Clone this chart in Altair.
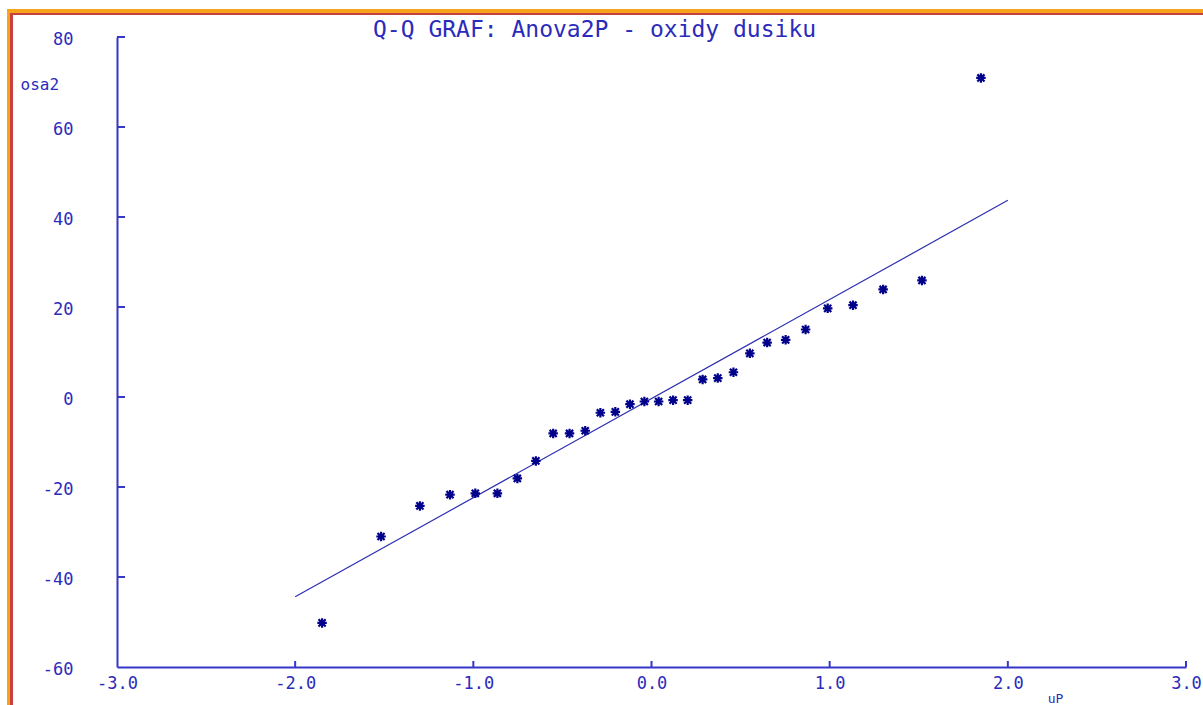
import altair as alt
import pandas as pd

# ---- data ----
uP = [-1.849, -1.518, -1.300, -1.131, -0.989, -0.865, -0.753, -0.649, -0.552, -0.460,
      -0.372, -0.287, -0.203, -0.121, -0.040, 0.040, 0.121, 0.203, 0.287, 0.372,
      0.460, 0.552, 0.649, 0.753, 0.865, 0.989, 1.131, 1.300, 1.518, 1.849]
osa2 = [-50.2, -31.0, -24.2, -21.7, -21.4, -21.4, -18.1, -14.2, -8.1, -8.1,
        -7.5, -3.5, -3.3, -1.6, -1.0, -1.0, -0.7, -0.7, 3.9, 4.2,
        5.5, 9.7, 12.1, 12.7, 15.0, 19.7, 20.4, 23.9, 25.9, 70.9]
line_x = [-2.0, 2.0]
line_y = [-44.4, 43.7]
x_ticks = [-3.0, -2.0, -1.0, 0.0, 1.0, 2.0, 3.0]
y_ticks = [-60, -40, -20, 0, 20, 40, 60, 80]
x_inner_ticks = [-2.0, -1.0, 0.0, 1.0, 2.0, 3.0]
y_inner_ticks = [-40, -20, 0, 20, 40, 60, 80]

TITLE = "Q-Q GRAF: Anova2P - oxidy dusiku"
FONT = "DejaVu Sans Mono"
AXIS_COL = "#3636c8"
TEXT_COL = "#2b2bbb"
PT_COL = "#00008b"

W, H = 1069, 630
PAD_L, PAD_T = 117, 37

pts = pd.DataFrame({"uP": uP, "osa2": osa2})
ln = pd.DataFrame({"uP": line_x, "osa2": line_y})
xt = pd.DataFrame({"uP": x_inner_ticks})
yt = pd.DataFrame({"osa2": y_inner_ticks})

x_scale = alt.Scale(domain=[-3, 3], nice=False, zero=False)
y_scale = alt.Scale(domain=[-60, 80], nice=False, zero=False)

x_enc = alt.X("uP:Q", scale=x_scale, title="uP",
              axis=alt.Axis(values=x_ticks, grid=False, ticks=False, domainColor=AXIS_COL,
                            domainWidth=2, labelColor=TEXT_COL, labelFont=FONT, labelFontSize=17,
                            labelPadding=8, labelFlush=False, labelOverlap=False,
                            labelExpr="replace(format(datum.value, '.1f'), '\u2212', '-')",
                            titleFont=FONT, titleFontSize=13, titleFontWeight="normal",
                            titleColor=TEXT_COL, titleX=938, titleY=31, titleAlign="center",
                            titleBaseline="middle", zindex=2))
y_enc = alt.Y("osa2:Q", scale=y_scale, title="osa2",
              axis=alt.Axis(values=y_ticks, grid=False, ticks=False, domainColor=AXIS_COL,
                            domainWidth=2, labelColor=TEXT_COL, labelFont=FONT, labelFontSize=17,
                            labelPadding=44, labelFlush=False, labelOverlap=False,
                            labelBaseline="middle", labelOffset=2,
                            labelExpr="replace(format(datum.value, 'd'), '\u2212', '-')",
                            titleFont=FONT, titleFontSize=16, titleFontWeight="normal",
                            titleColor=TEXT_COL, titleAngle=0, titleX=-97, titleY=47,
                            titleAlign="left", titleBaseline="middle", zindex=2))

one = alt.Data(values=[{}])


def band(color, x0, y0):
    return alt.Chart(one).mark_rect(color=color).encode(
        x=alt.value(x0 - PAD_L), x2=alt.value(1400),
        y=alt.value(y0 - PAD_T), y2=alt.value(900))


orange = band("#f6a41c", 7, 9)
red = band("#c9413a", 10, 13)
white = band("#ffffff", 13, 15)

title = alt.Chart(alt.Data(values=[{"t": TITLE}])).mark_text(
    font=FONT, fontSize=23, color=TEXT_COL, align="left", baseline="middle").encode(
    text="t:N", x=alt.value(373 - PAD_L), y=alt.value(30 - PAD_T))

line = alt.Chart(ln).mark_line(color="#2e2eb0", strokeWidth=1.2).encode(x=x_enc, y=y_enc)

xtick = alt.Chart(xt).mark_rule(color=AXIS_COL, strokeWidth=2).encode(
    x=x_enc, y=alt.value(H - 6), y2=alt.value(H))
ytick = alt.Chart(yt).mark_rule(color=AXIS_COL, strokeWidth=2).encode(
    y=y_enc, x=alt.value(0), x2=alt.value(8))

asterisk = "M0,-1L0,1M-1,0L1,0M-0.75,-0.75L0.75,0.75M-0.75,0.75L0.75,-0.75"
points = alt.Chart(pts).mark_point(shape=asterisk, filled=False, color=PT_COL,
                                   strokeWidth=2.2, size=90, opacity=1).encode(x=x_enc, y=y_enc)

chart = alt.layer(orange, red, white, title, line, xtick, ytick, points).properties(
    width=W, height=H,
    autosize=alt.AutoSizeParams(type="none"),
    padding={"left": PAD_L, "top": PAD_T, "right": 1203 - PAD_L - W, "bottom": 705 - PAD_T - H},
).configure_view(stroke=None).configure(background="white")

chart.save("out.html", embed_options={"renderer": "svg", "actions": False})
